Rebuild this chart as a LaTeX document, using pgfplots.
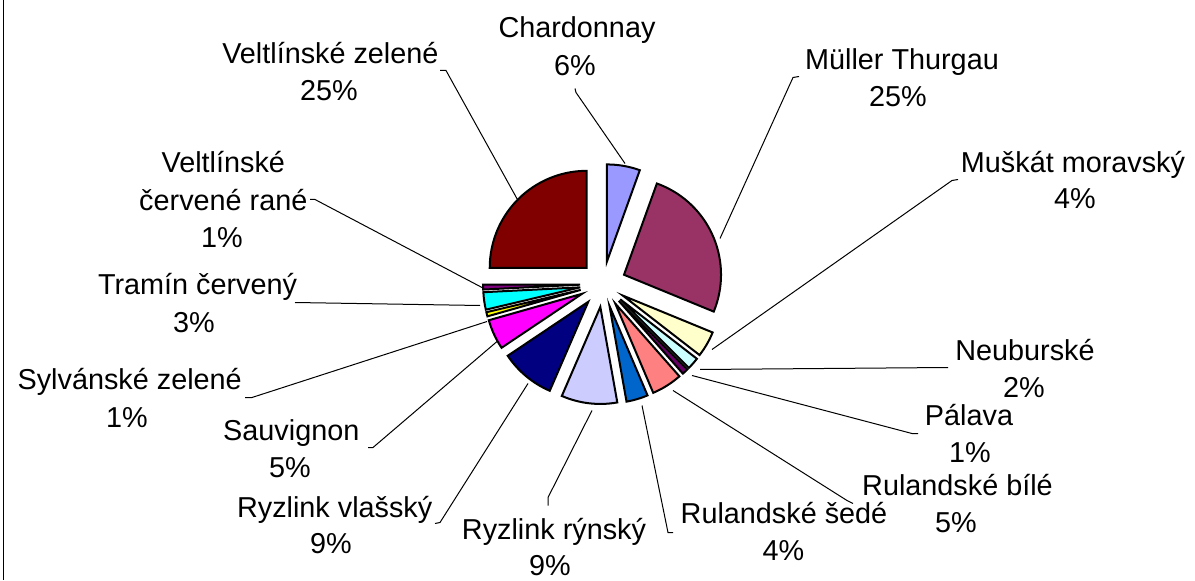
\documentclass[border=0pt]{standalone}
\usepackage{pgfplots}
\usepackage{pgfplotstable}
\pgfplotsset{compat=1.18}
\usepackage{fontspec}
\setmainfont{Liberation Sans}
\definecolor{c0}{HTML}{9999FF}
\definecolor{c1}{HTML}{993366}
\definecolor{c2}{HTML}{FFFFCC}
\definecolor{c3}{HTML}{CCFFFF}
\definecolor{c4}{HTML}{660066}
\definecolor{c5}{HTML}{FF8080}
\definecolor{c6}{HTML}{0066CC}
\definecolor{c7}{HTML}{CCCCFF}
\definecolor{c8}{HTML}{000080}
\definecolor{c9}{HTML}{FF00FF}
\definecolor{c10}{HTML}{FFFF00}
\definecolor{c11}{HTML}{00FFFF}
\definecolor{c12}{HTML}{800080}
\definecolor{c13}{HTML}{800000}
\tikzset{lbl/.style={anchor=base, inner sep=0pt, font=\fontsize{14.4pt}{18pt}\selectfont}}
% share of each variety (percent), clockwise from 12 o'clock
\pgfplotstableread{
pct col
5.5 c0
25.7 c1
4.3 c2
2.0 c3
1.0 c4
5.1 c5
3.6 c6
9.3 c7
9.1 c8
5.0 c9
0.7 c10
2.9 c11
0.8 c12
25.0 c13
}\piedata
\begin{document}
\begin{tikzpicture}
\begin{axis}[
  x=0.5pt, y=0.5pt,
  xmin=0, xmax=1195, ymin=0, ymax=579,
  hide axis, clip=false,
]
\path (axis cs:0,0) rectangle (axis cs:1195,579);
% left frame line
\addplot[black, line width=0.5pt, mark=none] coordinates {(3,0) (3,579)};
% pie slices
\xdef\cum{0}
\pgfplotsinvokeforeach{0,...,13}{%
  \pgfplotstablegetelem{#1}{pct}\of\piedata \let\pc\pgfplotsretval
  \pgfplotstablegetelem{#1}{col}\of\piedata \let\cl\pgfplotsretval
  \pgfmathsetmacro\aA{90-3.6*\cum}%
  \pgfmathsetmacro\aB{\aA-3.6*\pc}%
  \pgfmathsetmacro\aM{(\aA+\aB)/2}%
  \pgfmathsetmacro\tx{603+23*cos(\aM)}%
  \pgfmathsetmacro\ty{295.4+23*sin(\aM)}%
  \pgfmathsetmacro\newcum{\cum+\pc}%
  \xdef\cum{\newcum}%
  \edef\temp{\noexpand\filldraw[fill=\cl, draw=black, line width=1pt] (axis cs:\tx,\ty) -- ++(\aA:48.5pt) arc[start angle=\aA, end angle=\aB, radius=48.5pt] -- cycle;}%
  \temp
}
% leader lines
\addplot[black, line width=0.5pt, mark=none] coordinates {(575,491) (576,487) (625,416)};
\addplot[black, line width=0.5pt, mark=none] coordinates {(440,509) (446,509) (518,379)};
\addplot[black, line width=0.5pt, mark=none] coordinates {(799,503) (793,502) (720,341)};
\addplot[black, line width=0.5pt, mark=none] coordinates {(958,400) (952,399) (712,230)};
\addplot[black, line width=0.5pt, mark=none] coordinates {(948,212) (700,210)};
\addplot[black, line width=0.5pt, mark=none] coordinates {(918,146) (912,146) (692,204)};
\addplot[black, line width=0.5pt, mark=none] coordinates {(853,76) (847,79) (673,189)};
\addplot[black, line width=0.5pt, mark=none] coordinates {(673,47) (668,47) (642,174)};
\addplot[black, line width=0.5pt, mark=none] coordinates {(548,74) (548,82) (592,169)};
\addplot[black, line width=0.5pt, mark=none] coordinates {(435,56) (440,57) (528,196)};
\addplot[black, line width=0.5pt, mark=none] coordinates {(368,132) (373,132) (497,238)};
\addplot[black, line width=0.5pt, mark=none] coordinates {(245,182) (252,182) (487,258)};
\addplot[black, line width=0.5pt, mark=none] coordinates {(295,277) (480,274)};
\addplot[black, line width=0.5pt, mark=none] coordinates {(310,380) (315,380) (482,292)};
% labels
\node[lbl] at (axis cs:577,541.5) {Chardonnay};
\node[lbl] at (axis cs:575,504) {6\%};
\node[lbl] at (axis cs:330.4,515.7) {Veltlínské zelené};
\node[lbl] at (axis cs:329,479) {25\%};
\node[lbl] at (axis cs:902,510) {Müller Thurgau};
\node[lbl] at (axis cs:898,473) {25\%};
\node[lbl] at (axis cs:1073,407.3) {Muškát moravský};
\node[lbl] at (axis cs:1075,370.7) {4\%};
\node[lbl] at (axis cs:1025,219) {Neuburské};
\node[lbl] at (axis cs:1024,182.3) {2\%};
\node[lbl] at (axis cs:969,154) {Pálava};
\node[lbl] at (axis cs:970,117.3) {1\%};
\node[lbl] at (axis cs:957.5,84) {Rulandské bílé};
\node[lbl] at (axis cs:956,47.3) {5\%};
\node[lbl] at (axis cs:784,55.7) {Rulandské šedé};
\node[lbl] at (axis cs:783.5,19) {4\%};
\node[lbl] at (axis cs:554,40.5) {Ryzlink rýnský};
\node[lbl] at (axis cs:550,4) {9\%};
\node[lbl] at (axis cs:334.7,62.3) {Ryzlink vlašský};
\node[lbl] at (axis cs:331,26) {9\%};
\node[lbl] at (axis cs:291.3,139) {Sauvignon};
\node[lbl] at (axis cs:290,102.3) {5\%};
\node[lbl] at (axis cs:129.7,189.7) {Sylvánské zelené};
\node[lbl] at (axis cs:127,152.3) {1\%};
\node[lbl] at (axis cs:197.5,285) {Tramín červený};
\node[lbl] at (axis cs:194,247.3) {3\%};
\node[lbl] at (axis cs:223.3,406.5) {Veltlínské};
\node[lbl] at (axis cs:223.3,369) {červené rané};
\node[lbl] at (axis cs:222,331.5) {1\%};
\end{axis}
\end{tikzpicture}
\end{document}
